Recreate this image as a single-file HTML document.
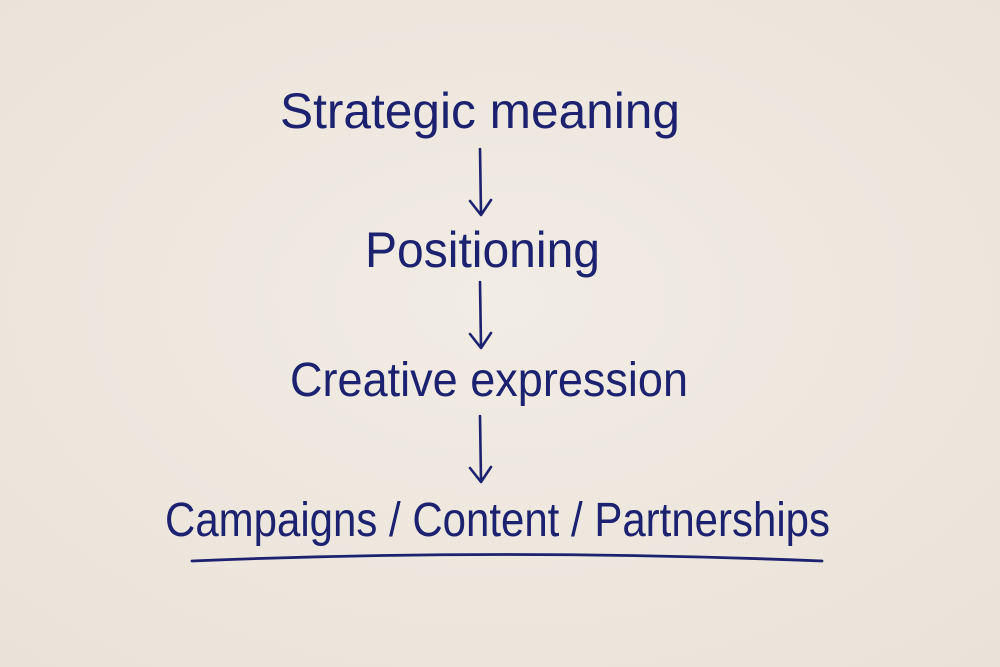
<!DOCTYPE html>
<html>
<head>
<meta charset="utf-8">
<style>
  html,body{margin:0;padding:0;background:#eee8df;}
  svg{display:block;}
  text{font-family:"Liberation Sans",sans-serif;fill:#1c2170;}
</style>
</head>
<body>
<svg width="1000" height="667" viewBox="0 0 1000 667" xmlns="http://www.w3.org/2000/svg">
  <defs>
    <radialGradient id="bg" cx="50%" cy="45%" r="75%">
      <stop offset="0" stop-color="#f1ece4"/>
      <stop offset="1" stop-color="#e9e2d8"/>
    </radialGradient>
  </defs>
  <rect width="1000" height="667" fill="url(#bg)"/>

  <text x="280" y="128" font-size="50" textLength="400" lengthAdjust="spacingAndGlyphs">Strategic meaning</text>
  <text x="365" y="267" font-size="50" textLength="235" lengthAdjust="spacingAndGlyphs">Positioning</text>
  <text x="290" y="396" font-size="48" textLength="398" lengthAdjust="spacingAndGlyphs">Creative expression</text>
  <text x="165" y="536" font-size="48" textLength="665" lengthAdjust="spacingAndGlyphs">Campaigns / Content / Partnerships</text>

  <g stroke="#1c2170" stroke-width="2.6" fill="none" stroke-linecap="round" stroke-linejoin="round">
    <path d="M480 149 L481 214"/>
    <path d="M470 201 L481 215 L491 200"/>
    <path d="M480 282 L481 347"/>
    <path d="M470 334 L481 348 L491 333"/>
    <path d="M480 416 L481 481"/>
    <path d="M470 468 L481 482 L491 467"/>
    <path d="M192 561 Q500 548 822 561" stroke-width="2.8"/>
  </g>
</svg>
</body>
</html>
